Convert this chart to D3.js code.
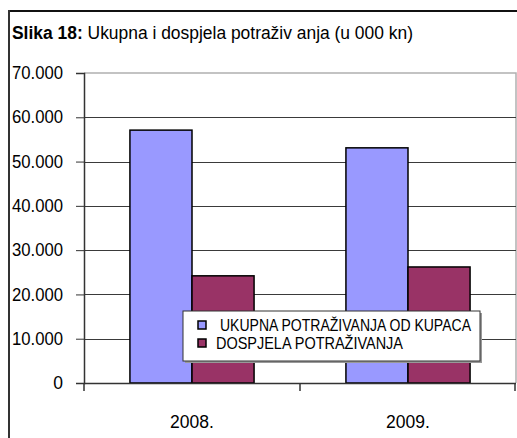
<!DOCTYPE html>
<meta charset="utf-8">
<script src="https://d3js.org/d3.v7.min.js"></script>
<style>
  body { margin: 0; background: #fff; }
  text { font-family: "Liberation Sans", Arial, sans-serif; fill: #000; }
</style>
<div id="chart"></div>
<script>
// data (u 000 kn)
var categories = ["2008.", "2009."];
var series = ["UKUPNA POTRAŽIVANJA OD KUPACA", "DOSPJELA POTRAŽIVANJA"];
var ukupna = [57100, 53100];
var dospjela = [24200, 26200];
var yTicks = [0, 10000, 20000, 30000, 40000, 50000, 60000, 70000];
var colors = ["#9999ff", "#993366"];

var W = 517, H = 438;
var plot = {left: 84, right: 516, top: 73, bottom: 383};

var svg = d3.select("#chart").append("svg")
  .attr("width", W).attr("height", H);

// outer frame (top and left edges visible)
svg.append("line").attr("x1", 9).attr("x2", W).attr("y1", 11).attr("y2", 11)
  .style("stroke", "#111").style("stroke-width", 2);
svg.append("line").attr("x1", 9).attr("x2", 9).attr("y1", 10).attr("y2", H)
  .style("stroke", "#333").style("stroke-width", 2);

// title
var title = svg.append("text").attr("x", 12).attr("y", 39).style("font-size", "17.5px")
  .attr("textLength", 401).attr("lengthAdjust", "spacingAndGlyphs");
title.append("tspan").style("font-weight", "bold").text("Slika 18:");
title.append("tspan").text(" Ukupna i dospjela potraživ anja (u 000 kn)");

var x0 = d3.scaleBand().domain(categories).range([plot.left, plot.right]);
var x1 = d3.scaleBand().domain(series).range([0, x0.bandwidth()]).paddingOuter(0.74);
var y = d3.scaleLinear().domain([0, 70000]).range([plot.bottom, plot.top]);

var hr = d3.formatLocale({decimal: ",", thousands: ".", grouping: [3], currency: ["", ""]});
var fmt = hr.format(",.0f");

// plot area border (top / right)
svg.append("path")
  .attr("d", "M" + plot.left + "," + plot.top + "H" + plot.right + "V" + plot.bottom)
  .style("fill", "none").style("stroke", "#b0b0b0").style("stroke-width", 1.5);

// gridlines
svg.append("g").selectAll("line")
  .data(yTicks.filter(function(d) { return d > 0 && d < 70000; }))
  .enter().append("line")
    .attr("x1", plot.left).attr("x2", plot.right)
    .attr("y1", function(d) { return Math.round(y(d)) + 0.5; })
    .attr("y2", function(d) { return Math.round(y(d)) + 0.5; })
    .style("stroke", "#3a3a3a");

// bars
var rows = categories.map(function(c, i) {
  return {cat: c, values: [
    {s: series[0], v: ukupna[i], c: colors[0]},
    {s: series[1], v: dospjela[i], c: colors[1]}
  ]};
});
svg.append("g").selectAll("g")
  .data(rows).enter().append("g")
    .attr("transform", function(d) { return "translate(" + x0(d.cat) + ",0)"; })
  .selectAll("rect")
  .data(function(d) { return d.values; })
  .enter().append("rect")
    .attr("x", function(d) { return x1(d.s); })
    .attr("y", function(d) { return y(d.v); })
    .attr("width", x1.bandwidth())
    .attr("height", function(d) { return y(0) - y(d.v); })
    .style("fill", function(d) { return d.c; })
    .style("stroke", "#000").style("stroke-width", 1.5);

// y axis
var yAxis = svg.append("g")
  .attr("transform", "translate(" + plot.left + ",0)")
  .call(d3.axisLeft(y).tickValues(yTicks).tickFormat(fmt).tickSize(8).tickPadding(13));
yAxis.select(".domain").style("stroke", "#333").style("stroke-width", 1.5);
yAxis.selectAll(".tick line").style("stroke", "#333");
yAxis.selectAll("text").style("font-size", "17.5px")
  .style("font-family", "Liberation Sans, Arial, sans-serif")
  .attr("textLength", function(d) { return d ? 51 : null; })
  .attr("lengthAdjust", "spacingAndGlyphs");

// x axis with ticks at category boundaries
svg.append("line").attr("x1", plot.left).attr("x2", plot.right)
  .attr("y1", plot.bottom + 0.5).attr("y2", plot.bottom + 0.5)
  .style("stroke", "#333").style("stroke-width", 1.5);
var edges = categories.map(function(c) { return x0(c); }).concat([plot.right - 1]);
svg.append("g").selectAll("line").data(edges).enter().append("line")
  .attr("x1", function(d) { return d; }).attr("x2", function(d) { return d; })
  .attr("y1", plot.bottom).attr("y2", plot.bottom + 8)
  .style("stroke", "#333").style("stroke-width", 1.5);
svg.append("g").selectAll("text").data(categories).enter().append("text")
  .attr("x", function(d) { return x0(d) + x0.bandwidth() / 2; })
  .attr("y", 428)
  .attr("text-anchor", "middle")
  .style("font-size", "17.5px")
  .text(function(d) { return d; });

// legend
var lg = svg.append("g").attr("transform", "translate(183,311)");
lg.append("rect").attr("x", 2).attr("y", 2).attr("width", 297).attr("height", 50)
  .style("fill", "#999");
lg.append("rect").attr("width", 297).attr("height", 50)
  .style("fill", "#fff").style("stroke", "#333");
var items = lg.selectAll("g.item").data(series).enter().append("g")
  .attr("transform", function(d, i) { return "translate(15," + (10 + i * 18) + ")"; });
items.append("rect").attr("width", 8).attr("height", 8)
  .style("fill", function(d, i) { return colors[i]; })
  .style("stroke", "#000").style("stroke-width", 1.5);
items.append("text")
  .attr("x", function(d, i) { return i === 0 ? 22 : 18; })
  .attr("y", 9.5)
  .style("font-size", "16.5px")
  .attr("textLength", function(d, i) { return i === 0 ? 251 : 187; })
  .attr("lengthAdjust", "spacingAndGlyphs")
  .text(function(d) { return d; });
</script>
